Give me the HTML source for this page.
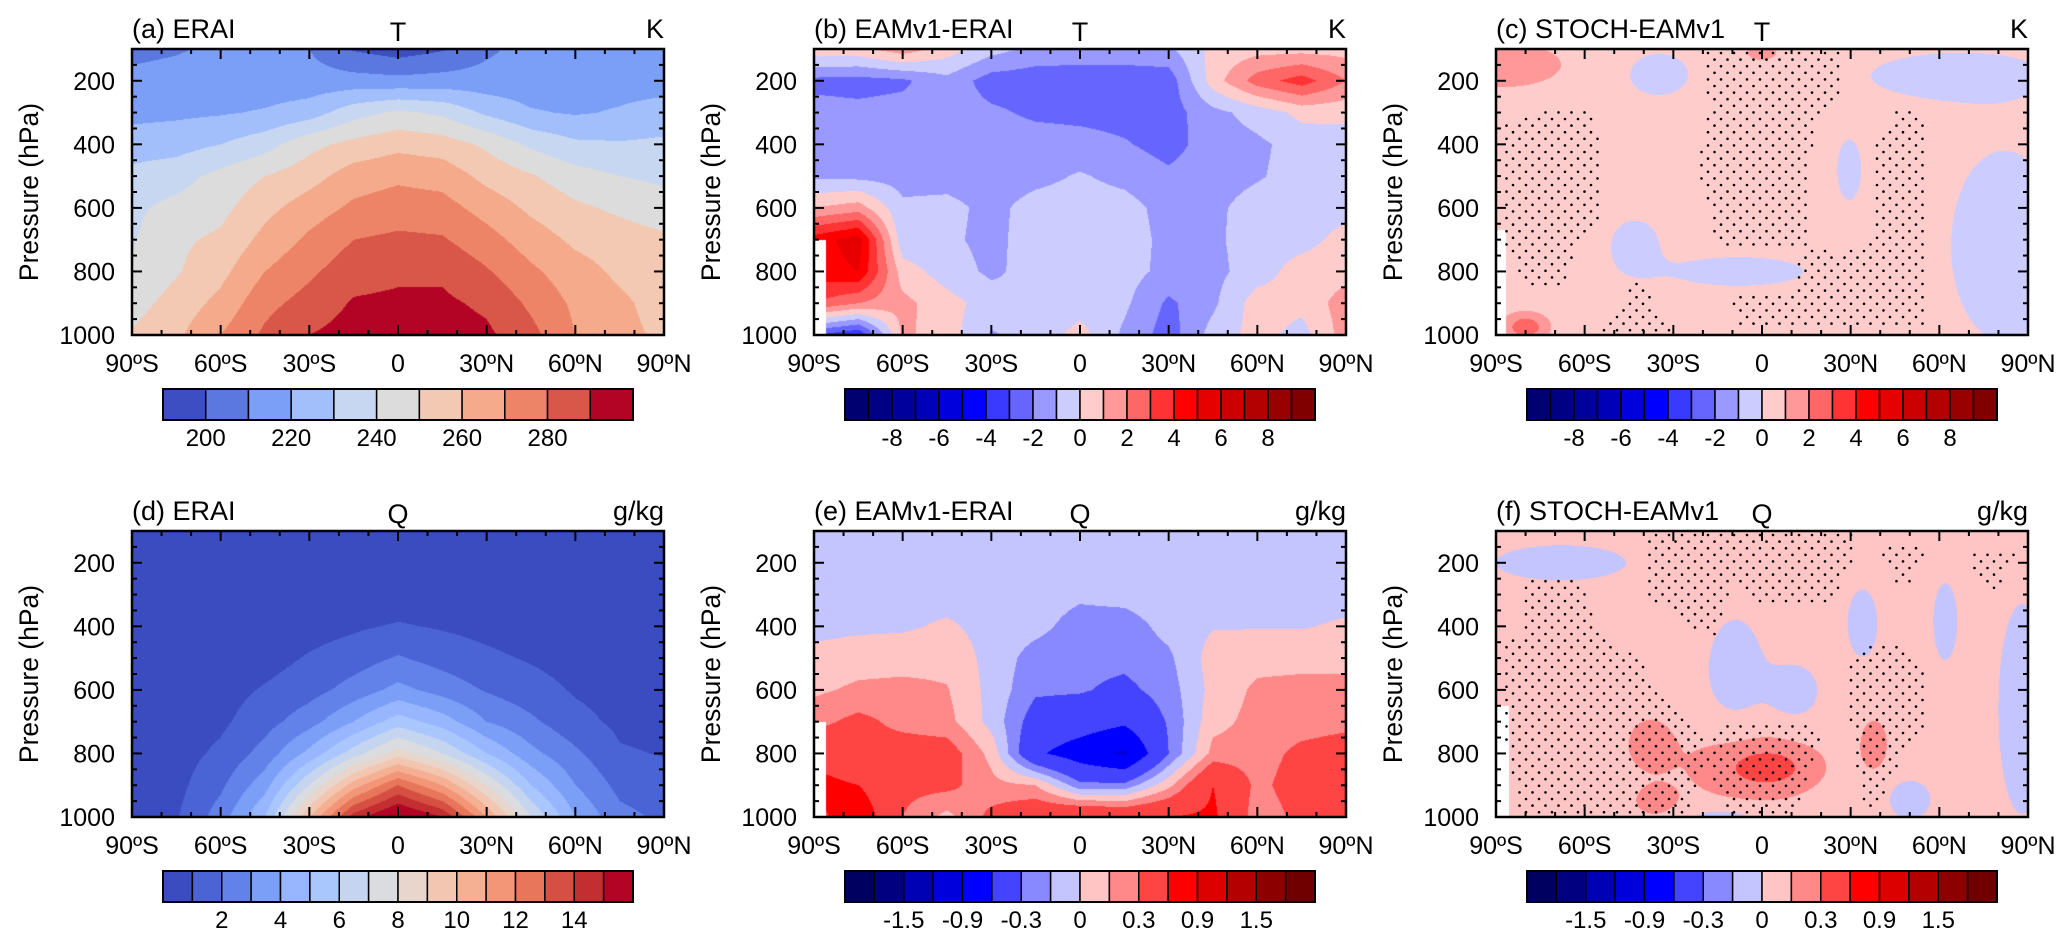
<!DOCTYPE html>
<html><head><meta charset="utf-8"><style>
body{margin:0;background:#fff;width:2067px;height:944px;overflow:hidden;position:relative;font-family:"Liberation Sans",sans-serif}
canvas{position:absolute}
svg{position:absolute;left:0;top:0}
svg text{font-family:"Liberation Sans",sans-serif;fill:#000}
</style></head><body>
<svg id="ov" width="2067" height="944"></svg>
<script>
// ---------- data ----------
const LATS=[-90,-75,-60,-45,-30,-15,0,15,30,45,60,75,90];
const PLEVS=[100,200,300,400,500,600,700,800,900,1000];
const tERAI=[
[207,209,212,212,210,199,195,199,208,214,217,219,218],
[213,214,215,214,214,214,213,214,214,214,215,216,216],
[217,218,219,221,225,236,242,238,228,221,219,221,224],
[225,226,230,236,247,253,257,255,248,238,232,231,232],
[233,236,243,250,256,265,268,266,257,251,244,240,238],
[238,243,247,257,265,272,275,274,266,258,252,248,244],
[239,248,252,263,272,280,282,281,274,265,258,255,252],
[241,249,257,270,278,286,288,288,281,272,264,258,254],
[246,254,263,277,284,291,292,292,288,278,268,262,256],
[251,258,270,282,290,294,296,295,292,283,270,263,258]];
const tDiff=[
[0.7,0.7,1.6,0.5,-0.6,-1.3,-1.4,-1.4,-1.2,0.3,0.6,0.6,0.6],
[-2.3,-2.4,-2.2,-1.3,-2.5,-2.6,-2.6,-2.6,-2.6,0.5,2.5,3.5,2.0],
[-1.6,-1.7,-1.6,-1.5,-1.8,-2.2,-2.3,-2.4,-2.5,-1.3,-0.6,0.3,0.3],
[-1.5,-1.5,-1.5,-1.5,-1.5,-1.5,-1.6,-1.9,-2.4,-1.5,-1.2,-0.6,-0.5],
[-1.2,-1.3,-1.4,-1.4,-1.5,-1.3,-0.9,-1.3,-1.8,-1.4,-1.1,-0.6,-0.5],
[1.0,1.5,-0.8,-0.7,-1.3,-0.6,-0.5,-0.6,-1.4,-1.2,-0.6,-0.5,-0.4],
[4.5,5.5,-0.7,-0.8,-1.3,-0.5,-0.5,-0.5,-1.3,-1.2,-0.5,-0.4,0.4],
[4.5,5.0,0.5,-0.5,-1.2,-0.6,-0.5,-0.6,-1.3,-1.3,-0.5,0.5,0.6],
[3,2,1.3,0.4,-0.5,-1.0,-0.5,-0.8,-2.2,-1.2,0.5,0.3,1.5],
[-3,-4,1.2,0.5,-1.1,-0.6,0.4,-1.2,-2.5,-0.6,0.4,-0.4,1.5]];
const qERAI=[
[0.01,0.01,0.01,0.01,0.01,0.01,0.01,0.01,0.01,0.01,0.01,0.01,0.01],
[0.05,0.05,0.05,0.05,0.05,0.05,0.05,0.05,0.05,0.05,0.05,0.05,0.05],
[0.1,0.1,0.1,0.15,0.2,0.3,0.4,0.35,0.25,0.15,0.1,0.1,0.1],
[0.2,0.2,0.3,0.4,0.6,0.85,1.1,0.9,0.7,0.5,0.35,0.3,0.25],
[0.25,0.3,0.4,0.6,1.1,1.5,2.1,1.6,1.2,0.9,0.6,0.4,0.35],
[0.3,0.4,0.6,1.1,1.6,2.4,3.3,2.6,1.9,1.4,0.9,0.6,0.5],
[0.35,0.5,0.8,1.6,2.6,4.0,5.5,4.5,3.0,2.2,1.3,0.8,0.7],
[0.4,0.6,1.2,2.4,4.3,6.5,8.5,7.0,5.0,3.3,2.2,1.1,0.95],
[0.45,0.7,1.8,3.6,7.0,10.5,13,11,8,5,3,1.7,1.4],
[0.5,0.9,2.5,5,10,14.5,16.5,15,11,7,4,2.3,1.8]];
const qDiff=[
[-0.05,-0.05,-0.05,-0.05,-0.05,-0.05,-0.05,-0.05,-0.05,-0.05,-0.05,-0.05,-0.05],
[-0.05,-0.05,-0.05,-0.05,-0.05,-0.05,-0.05,-0.05,-0.05,-0.05,-0.05,-0.05,-0.05],
[-0.05,-0.05,-0.05,-0.05,-0.05,-0.07,-0.12,-0.1,-0.06,-0.05,-0.05,-0.05,-0.05],
[-0.05,-0.03,-0.02,0.02,-0.05,-0.1,-0.22,-0.22,-0.1,-0.01,-0.01,-0.01,0.02],
[0.05,0.08,0.08,0.1,-0.05,-0.22,-0.25,-0.25,-0.18,0.07,0.1,0.1,0.1],
[0.12,0.18,0.2,0.16,-0.05,-0.27,-0.28,-0.35,-0.22,0.05,0.18,0.2,0.2],
[0.25,0.35,0.25,0.2,-0.05,-0.4,-0.45,-0.55,-0.28,0.1,0.2,0.22,0.25],
[0.5,0.35,0.4,0.4,0.1,-0.55,-0.75,-0.95,-0.3,0.2,0.22,0.35,0.4],
[0.7,0.6,0.35,0.35,0.2,0.15,-0.25,-0.25,0.1,0.6,0.25,0.4,0.45],
[0.5,0.8,0.3,0.1,0.35,0.5,0.6,0.55,0.6,0.65,0.2,0.35,0.4]];
// STOCH-EAMv1 T anomalies (blobs on a base value)
const cBase=0.5;
const cBlobLat=[-88,0,-35,65,82,29.5,-43,-8,-80];
const cBlobP=[150,110,180,185,720,480,720,800,975];
const cBlobRLat=[20,5,10,28,18,4,8,22,6];
const cBlobRP=[70,25,65,70,300,95,80,45,35];
const cBlobAmp=[1,1,-1,-1,-1,-1,-1,-1,2.2];
// STOCH-EAMv1 Q anomalies
const fBase=0.07;
const fBlobLat=[-68,-9,11,34,62,88,50,-13,-38,-3,2,38,-36];
const fBlobP=[200,540,610,390,385,660,945,1000,770,840,845,770,950];
const fBlobRLat=[22,9,8,5,4,8,7,12,6.5,22,10,4,6];
const fBlobRP=[55,160,85,105,120,330,60,30,70,110,45,70,40];
const fBlobAmp=[-0.14,-0.14,-0.14,-0.14,-0.14,-0.14,-0.14,-0.14,0.16,0.16,0.2,0.16,0.16];
// significance stipple regions [lat,p]
const cStipple=[
[[-88,340],[-72,280],[-58,300],[-55,400],[-55,650],[-62,720],[-68,860],[-80,860],[-88,700]],
[[-20,105],[26,105],[26,240],[18,330],[16,500],[15,720],[-15,720],[-22,470],[-18,300]],
[[50,290],[56,330],[55,700],[55,975],[-8,975],[-10,880],[10,860],[14,720],[28,740],[37,700],[38,400],[45,300]],
[[-54,985],[-42,820],[-30,985]]];
const fStipple=[
[[-40,110],[31,110],[31,200],[24,330],[0,330],[-10,260],[-15,440],[-25,400],[-40,290]],
[[39,140],[57,140],[50,275],[45,275]],
[[67,160],[88,160],[78,300]],
[[-85,260],[-62,250],[-58,350],[-55,430],[-45,480],[-37,560],[-30,640],[-25,700],[-20,750],[-17,820],[-22,900],[-25,995],[-82,995],[-88,700],[-88,430],[-80,430],[-80,300]],
[[-18,720],[0,700],[15,700],[20,760],[15,900],[10,995],[-10,995],[-18,870]],
[[30,500],[40,440],[46,460],[56,560],[56,700],[50,760],[40,960],[34,980],[30,700]]];
// levels & colours
const tLevels=[200,210,220,230,240,250,260,270,280,290];
const tColors=['#3c4ec2','#5a78e0','#7b9ef6','#a2bffc','#c8d7f1','#dddcdc','#f3c9b3','#f5aa8b','#ee8467','#d95748','#b40426'];
const tLabels=[200,220,240,260,280];
const qLevels=[1,2,3,4,5,6,7,8,9,10,11,12,13,14,15];
const qColors=['#3b4cc0','#4b64d5','#6282ea','#7b9ef6','#97b6fd','#aac7fd','#c5d5f0','#dadce0','#e8d6cc','#f2c6b1','#f5b094','#f39577','#e7765b','#d55042','#c32e31','#b40426'];
const qLabels=[2,4,6,8,10,12,14];
const dtLevels=[-9,-8,-7,-6,-5,-4,-3,-2,-1,0,1,2,3,4,5,6,7,8,9];
const dtColors=['#000070','#000085','#00009c','#0000b8','#0000dc','#0000ff','#3a3aff','#6666ff','#9999ff','#ccccff','#ffcccc','#ff9999','#ff6666','#ff3333','#ff0000','#e60000','#cc0000','#b30000','#990000','#800000'];
const dtLabels=[-8,-6,-4,-2,0,2,4,6,8];
const dqLevels=[-1.8,-1.5,-1.2,-0.9,-0.6,-0.3,-0.15,0,0.15,0.3,0.6,0.9,1.2,1.5,1.8];
const dqColors=['#000060','#000080','#0000b4','#0000dc','#0000ff','#4444ff','#8888ff','#c4c4ff','#ffc4c4','#ff8888','#ff4444','#ff0000','#dc0000','#b40000','#8c0000','#700000'];
const dqLabels=['-1.5','-0.9','-0.3','0','0.3','0.9','1.5'];
const dqLabelIdx=[1,3,5,7,9,11,13];

// ---------- geometry ----------
const W=532,H=286;
const COLX=[132,814,1496], ROWY=[49,531];
const NS='http://www.w3.org/2000/svg';
const ov=document.getElementById('ov');
function el(tag,attrs,parent){const e=document.createElementNS(NS,tag);for(const k in attrs)e.setAttribute(k,attrs[k]);(parent||ov).appendChild(e);return e;}
function grid(g,lat,p){
  let fi=(lat+90)/15, pj=(p-100)/100;
  fi=Math.max(0,Math.min(12,fi)); pj=Math.max(0,Math.min(9,pj));
  const i0=Math.min(11,Math.floor(fi)), j0=Math.min(8,Math.floor(pj));
  const a=fi-i0,b=pj-j0;
  return g[j0][i0]*(1-a)*(1-b)+g[j0][i0+1]*a*(1-b)+g[j0+1][i0]*(1-a)*b+g[j0+1][i0+1]*a*b;
}
function blobs(base,la,pp,rl,rp,amp,lat,p){
  let v=base;for(let k=0;k<la.length;k++){const d=((lat-la[k])/rl[k])**2+((p-pp[k])/rp[k])**2;v+=amp[k]*Math.pow(2,-d);}return v;
}
function lvl(levels,v){let n=0;for(const b of levels){if(v>=b)n++;}return n;}
function hex(c){return [parseInt(c.substr(1,2),16),parseInt(c.substr(3,2),16),parseInt(c.substr(5,2),16)];}
function inPoly(poly,x,y){let ins=false;for(let i=0,j=poly.length-1;i<poly.length;j=i++){const xi=poly[i][0],yi=poly[i][1],xj=poly[j][0],yj=poly[j][1];if(((yi>y)!=(yj>y))&&(x<(xj-xi)*(y-yi)/(yj-yi)+xi))ins=!ins;}return ins;}

const panels=[
 {name:'panel-a',col:0,row:0,title:'(a) ERAI',mid:'T',unit:'K',f:(la,p)=>grid(tERAI,la,p),levels:tLevels,colors:tColors,labels:tLabels.map(String),labelIdx:[0,2,4,6,8],mask:null},
 {name:'panel-b',col:1,row:0,title:'(b) EAMv1-ERAI',mid:'T',unit:'K',f:(la,p)=>grid(tDiff,la,p),levels:dtLevels,colors:dtColors,labels:dtLabels.map(String),labelIdx:[1,3,5,7,9,11,13,15,17],mask:(la,p)=>la<-86&&p>700},
 {name:'panel-c',col:2,row:0,title:'(c) STOCH-EAMv1',mid:'T',unit:'K',f:(la,p)=>blobs(cBase,cBlobLat,cBlobP,cBlobRLat,cBlobRP,cBlobAmp,la,p),levels:dtLevels,colors:dtColors,labels:dtLabels.map(String),labelIdx:[1,3,5,7,9,11,13,15,17],mask:(la,p)=>la<-86.5&&p>670,stip:cStipple},
 {name:'panel-d',col:0,row:1,title:'(d) ERAI',mid:'Q',unit:'g/kg',f:(la,p)=>grid(qERAI,la,p),levels:qLevels,colors:qColors,labels:qLabels.map(String),labelIdx:[1,3,5,7,9,11,13],mask:null},
 {name:'panel-e',col:1,row:1,title:'(e) EAMv1-ERAI',mid:'Q',unit:'g/kg',f:(la,p)=>grid(qDiff,la,p),levels:dqLevels,colors:dqColors,labels:dqLabels,labelIdx:dqLabelIdx,mask:(la,p)=>la<-86&&p>700},
 {name:'panel-f',col:2,row:1,title:'(f) STOCH-EAMv1',mid:'Q',unit:'g/kg',f:(la,p)=>blobs(fBase,fBlobLat,fBlobP,fBlobRLat,fBlobRP,fBlobAmp,la,p),levels:dqLevels,colors:dqColors,labels:dqLabels,labelIdx:dqLabelIdx,mask:(la,p)=>la<-85.5&&p>650,stip:fStipple}
];
const xTickLat=[-90,-60,-30,0,30,60,90];
const xTickLab=['90ºS','60ºS','30ºS','0','30ºN','60ºN','90ºN'];
const yTickP=[200,400,600,800,1000];

panels.forEach(P=>{
  const L=COLX[P.col],T=ROWY[P.row];
  const xs=la=>L+(la+90)/180*W, ys=p=>T+(p-100)/900*H;
  const cv=document.createElement('canvas');cv.width=W;cv.height=H;cv.style.left=L+'px';cv.style.top=T+'px';
  
  
  document.body.insertBefore(cv,ov);
  const ctx=cv.getContext('2d');const img=ctx.createImageData(W,H);
  const rgb=P.colors.map(hex);
  for(let y=0;y<H;y++){const p=100+(y+0.5)/H*900;for(let x=0;x<W;x++){const la=-90+(x+0.5)/W*180;const o=(y*W+x)*4;
    if(P.mask&&P.mask(la,p)){img.data[o]=255;img.data[o+1]=255;img.data[o+2]=255;img.data[o+3]=255;continue;}
    const c=rgb[lvl(P.levels,P.f(la,p))];img.data[o]=c[0];img.data[o+1]=c[1];img.data[o+2]=c[2];img.data[o+3]=255;}}
  ctx.putImageData(img,0,0);
  const g=el('g',{});
  
  
  if(P.stip){
    const sg=el('g',{fill:'#000'},g);
    
    
    let r=0;for(let y=T+4;y<T+H-1;y+=6.6,r++){for(let x=L+4+(r%2)*6.5;x<L+W-2;x+=13){const la=-90+(x-L)/W*180,p=100+(y-T)/H*900;
      if(P.stip.some(poly=>inPoly(poly,la,p))){const d=el('circle',{cx:x.toFixed(1),cy:y.toFixed(1),r:1.3},sg);
        
        }}}
  }
  const fr=el('rect',{x:L,y:T,width:W,height:H,fill:'none',stroke:'#000','stroke-width':2.5},g);
  
  
  for(let la=-90;la<=90;la+=10){const x=xs(la),maj=la%30===0,len=maj?10:5;
    el('line',{x1:x,y1:T,x2:x,y2:T+len,stroke:'#000','stroke-width':2},g);
    el('line',{x1:x,y1:T+H,x2:x,y2:T+H-len,stroke:'#000','stroke-width':2},g);}
  for(let p=150;p<=1000;p+=50){const y=ys(p),maj=p%200===0,len=maj?10:5;
    el('line',{x1:L,y1:y,x2:L+len,y2:y,stroke:'#000','stroke-width':2},g);
    el('line',{x1:L+W,y1:y,x2:L+W-len,y2:y,stroke:'#000','stroke-width':2},g);}
  xTickLat.forEach((la,i)=>{const t=el('text',{x:xs(la),y:T+H+37,'font-size':25,'text-anchor':'middle'},g);t.textContent=xTickLab[i];
    
    });
  yTickP.forEach(p=>{const t=el('text',{x:L-17,y:ys(p)+9,'font-size':25,'text-anchor':'end'},g);t.textContent=p;
    
    });
  const yl=el('text',{x:0,y:0,'font-size':26.5,'text-anchor':'middle',transform:`translate(${L-94},${T+H/2}) rotate(-90)`},g);yl.textContent='Pressure (hPa)';
  
  
  const tt=el('text',{x:L,y:T-11,'font-size':27},g);tt.textContent=P.title;
  
  
  const tm=el('text',{x:xs(0),y:T-8,'font-size':27,'text-anchor':'middle'},g);tm.textContent=P.mid;
  
  
  const tu=el('text',{x:L+W,y:T-11,'font-size':27,'text-anchor':'end'},g);tu.textContent=P.unit;
  
  
  const cb=el('g',{},g);
  
  
  const cx0=L+31,cw=470,cy0=T+H+54,ch=31,n=P.colors.length,bw=cw/n;
  P.colors.forEach((c,i)=>{const r=el('rect',{x:cx0+i*bw,y:cy0,width:bw,height:ch,fill:c,stroke:'#000','stroke-width':1.5},cb);
    
    });
  el('rect',{x:cx0,y:cy0,width:cw,height:ch,fill:'none',stroke:'#000','stroke-width':2},cb);
  P.labels.forEach((lb,i)=>{const x=cx0+(P.labelIdx[i]+1)*bw;const t=el('text',{x:x,y:cy0+ch+26,'font-size':24,'text-anchor':'middle'},cb);t.textContent=lb;
    
    });
});
</script>
</body></html>
